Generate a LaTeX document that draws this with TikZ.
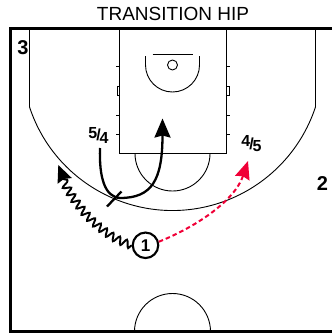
\documentclass[tikz,border=0pt]{standalone}
\usepackage{fontspec}
\setmainfont{Liberation Sans}
\usetikzlibrary{arrows.meta,decorations.pathmorphing}
\definecolor{passred}{RGB}{240,0,55}
\tikzset{
  courtline/.style={line width=0.9pt, black},
  courtborder/.style={line width=3pt, black},
  player/.style={circle, draw, line width=2.1pt, minimum size=25.5pt, inner sep=0pt, font=\fontsize{17}{17}\selectfont\bfseries},
  num/.style={font=\fontsize{20}{20}\selectfont\bfseries, inner sep=0pt, anchor=base},
  poslabel/.style={font=\fontsize{16}{16}\selectfont\bfseries, inner sep=0pt},
  cut/.style={line width=2.3pt, -{Stealth[length=19pt,width=16pt,inset=2pt]}},
  screenbar/.style={line width=2.3pt},
  dribble/.style={line width=1.9pt, decorate, decoration={snake, amplitude=3.8pt, segment length=8pt, post length=15pt},
    -{Stealth[length=17pt,width=15pt,inset=2pt]}},
  pass/.style={line width=2pt, passred, dash pattern=on 4.5pt off 3pt,
    -{Stealth[length=18pt,width=15pt,inset=2pt,passred]}}
}
\begin{document}
\begin{tikzpicture}[x=1pt,y=-1pt]
\useasboundingbox (0,0) rectangle (332,335);
% title
\node[font=\fontsize{19}{19}\selectfont, inner sep=0pt, anchor=base] (title) at (173,20) {TRANSITION HIP};
% court border
\draw[courtborder] (333,28.5) -- (10.5,28.5) -- (10.5,331.5) -- (333,331.5);
% lane
\draw[courtline] (119.5,28.5) -- (119.5,153.5) -- (226.5,153.5) -- (226.5,28.5);
% lane ticks and blocks
\foreach \yy in {66,115,134} {
  \draw[courtline] (116,\yy) -- (119.5,\yy);
  \draw[courtline] (226.5,\yy) -- (230,\yy);
}
\draw[courtline] (117,86) rectangle (119.5,95);
\draw[courtline] (226.5,86) rectangle (229,95);
% backboard, basket, restricted area
\draw[courtline] (152.5,54.5) -- (192.5,54.5);
\draw[courtline] (172.5,65) circle[radius=5];
\draw[courtline] (145.5,56) -- (145.5,65) arc[start angle=180, end angle=0, radius=27] -- (199.5,56);
% free throw semicircle
\draw[courtline] (135,153.5) arc[start angle=180, end angle=0, radius=37.5];
% three point line
\draw[courtline] (29.5,28.5) -- (29.5,106.9) arc[start angle=161.84, end angle=18.16, radius=150.5] -- (315.5,28.5);
% center circle
\draw[courtline] (134.5,331.5) arc[start angle=180, end angle=360, radius=38];
% labels
\node[num] (n3) at (23,54) {3};
\node[num] (n2) at (322.5,190) {2};
\node[poslabel] (l54) at (98.5,135) {\raisebox{2.5pt}{5}\kern-1pt/\kern-1pt\raisebox{-2.5pt}{4}};
\node[poslabel] (l45) at (251.5,144) {\raisebox{2.5pt}{4}\kern-1pt/\kern-1pt\raisebox{-2.5pt}{5}};
% player 1
\node[player] (p1) at (145.5,245.3) {1};
% coordinates
\coordinate (cutstart) at (100,148);
\coordinate (cutmid) at (120,198);
\coordinate (cutend) at (162.5,118.5);
\coordinate (scrA) at (107,206.5);
\coordinate (scrB) at (121.5,191.5);
\coordinate (dribend) at (58.3,165);
\coordinate (passend) at (248,161);
% cut with screen
\draw[cut] (cutstart) .. controls (99,178) and (105,197) .. (cutmid) .. controls (152,198) and (162.5,180) .. (cutend);
\draw[screenbar] (scrA) -- (scrB);
% dribble
\draw[dribble] (p1.west) .. controls (100,235) and (70,200) .. (dribend);
% pass
\draw[pass] (p1.15) .. controls (198,226) and (235,200) .. (passend);
\end{tikzpicture}
\end{document}
